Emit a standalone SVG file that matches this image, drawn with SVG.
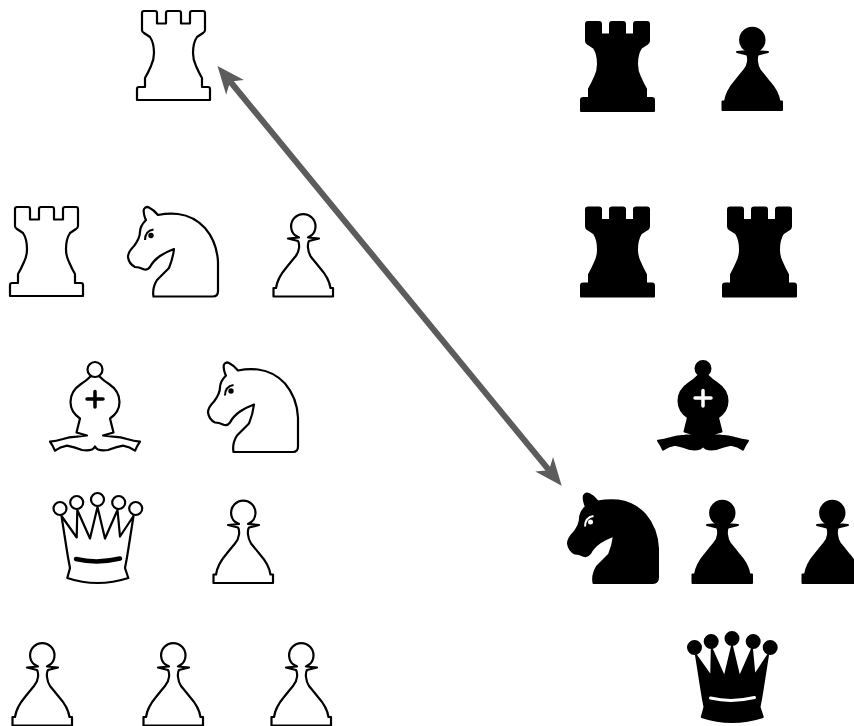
<svg xmlns="http://www.w3.org/2000/svg" width="854" height="726" viewBox="0 0 854 726">
<style>
.w{fill:#fff;stroke:#000;stroke-width:2.2;stroke-linejoin:round}
.b{fill:#000;stroke:#000;stroke-width:2;stroke-linejoin:round}
.wm{fill:none;stroke:#000}
.bm{fill:none;stroke:#fff}
.link{fill:none;stroke:#5c5c5c;stroke-width:6}
</style>
<defs>
<marker id="head" viewBox="-8 -12 28 24" refX="0" refY="0" markerWidth="28" markerHeight="24" markerUnits="userSpaceOnUse" orient="auto-start-reverse"><path d="M20 0L-7.6-11.500L0 0L-7.6 11.500Z" fill="#5c5c5c"/></marker>
<path id="rook" d="M144 11H155Q157 11 157 13V23.500H166V13Q166 11 168 11H179Q181 11 181 13V23.500H190V13Q190 11 192 11H203Q205 11 205 13V30Q205 32 203 33L197 37Q193 43 193 53Q193 60 196 66Q199 73 202 78V87H208Q210 87 210 89V100H137V89Q137 87 139 87H145V78Q148 73 151 66Q154 60 154 53Q154 43 150 37L144 33Q142 32 142 30V13Q142 11 144 11Z"/>
<path id="pawnshape" d="M295 235.300A12.200 12.200 0 1 1 311.600 235.300L308 237.500L319 238.500L309 241Q307.500 243 308 248Q308.500 253 311 257Q316 263 320 268Q329 278 330.500 288H333V296.500H273.500V288H276Q277.500 278 286 268Q290 263 295 257Q298.500 253 299 248Q299.500 243 298 241L288 238.500L299 237.500Z"/>
<path id="knight" d="M145 218Q143 212 144 209Q146 206 149 207.500Q154 210 158 215Q168 213 178 214Q194 216 205 228Q217 242 218 262V291Q218 296.500 213 296.500H153.500Q152 288 157 280Q163 274 169 268Q173 258 174 249Q166 252 160 256Q153 261 150 267Q147 271 143 269Q139 267 135 267Q129 264 128 257Q128 252 134 246Q140 238 140 232Q140 226 146 220Z"/>
<path id="bishop" d="M91 376Q86 381 81 384Q70.500 391 70.500 402Q70.500 412 80 418.500L76.500 432.500L87 435.500L76.500 436.700Q69 437 63 439Q56 441 50 441.700Q53 446 55 450.700Q60 447 67 445.700Q74 447 82 450Q88 451 92 449.500Q94 448.500 95 446.500Q96 448.500 98 449.500Q102 451 108 450Q116 447 123 445.700Q130 447 135 450.700Q137 446 140 441.700Q134 441 127 439Q121 437 113.500 436.700L103 435.500L113.500 432.500L110 418.500Q119.500 412 119.500 402Q119.500 391 109 384Q104 381 99 376"/>
<circle id="ball" cx="95" cy="369.500" r="7.500"/>
<path id="queen" d="M61.500 516L66.500 548Q68 558 70 568L67.300 578Q82 583 97.500 583Q113 583 128.300 578L125 568Q127 558 128.500 548L133.500 516L120 536.500L117.500 510L105 538.500L97.500 507L90 538.500L77.300 510L76.700 537.500Z"/>
<g id="qballs"><circle cx="60" cy="508.500" r="6.500"/><circle cx="76.700" cy="502.500" r="6.500"/><circle cx="97.500" cy="499.500" r="6.500"/><circle cx="118.700" cy="502.500" r="6.500"/><circle cx="135.700" cy="508.500" r="6.500"/></g>
<g id="wr"><use href="#rook" class="w"/></g>
<g id="br"><use href="#rook" class="b"/></g>
<g id="wp"><use href="#pawnshape" class="w"/></g>
<g id="bp"><use href="#pawnshape" class="b"/></g>
<g id="wn"><use href="#knight" class="w"/><circle cx="151" cy="235.500" r="2.700"/><path class="wm" stroke-width="2" d="M145 240Q145 231 153.500 229.500"/></g>
<g id="bn"><use href="#knight" class="b"/><circle cx="150.500" cy="235.500" r="2.500" fill="#fff"/><path class="bm" stroke-width="2" d="M145 240Q145 231 153.500 229.500"/></g>
<g id="wb"><use href="#bishop" class="w"/><use href="#ball" class="w"/><path class="wm" stroke-width="3.500" stroke-linecap="round" d="M87 399H103M95 391.500V407"/></g>
<g id="bb"><use href="#bishop" class="b"/><use href="#ball" class="b"/><path class="bm" stroke-width="3.500" stroke-linecap="round" d="M87 399H103M95 391.500V407"/></g>
<g id="wq"><use href="#queen" class="w"/><use href="#qballs" class="w"/><path class="wm" stroke-width="4.500" stroke-linecap="round" d="M76 559Q97 564 120 558.500"/></g>
<g id="bq"><use href="#queen" class="b"/><use href="#qballs" class="b"/><path class="bm" stroke-width="3" stroke-linecap="round" d="M76 559Q97 564 120 558.500"/></g>
</defs>
<g id="white-rook-1"><use href="#wr"/></g>
<g id="white-rook-2" transform="translate(-127 196)"><use href="#wr"/></g>
<g id="white-knight-1"><use href="#wn"/></g>
<g id="white-pawn-1"><use href="#wp"/></g>
<g id="white-bishop"><use href="#wb"/></g>
<g id="white-knight-2" transform="translate(80 155.500)"><use href="#wn"/></g>
<g id="white-queen"><use href="#wq"/></g>
<g id="white-pawn-2" transform="translate(-60 286.500)"><use href="#wp"/></g>
<g id="white-pawn-3" transform="translate(-261 429)"><use href="#wp"/></g>
<g id="white-pawn-4" transform="translate(-130 429)"><use href="#wp"/></g>
<g id="white-pawn-5" transform="translate(-2 429)"><use href="#wp"/></g>
<g id="black-rook-1" transform="translate(444 11)"><use href="#br"/></g>
<g id="black-pawn-1" transform="translate(449 -186.500)"><use href="#bp"/></g>
<g id="black-rook-2" transform="translate(444 196.500)"><use href="#br"/></g>
<g id="black-rook-3" transform="translate(586 196.500)"><use href="#br"/></g>
<g id="black-bishop" transform="translate(608 -1)"><use href="#bb"/></g>
<g id="black-knight" transform="translate(440 286.500)"><use href="#bn"/></g>
<g id="black-pawn-2" transform="translate(419 286.500)"><use href="#bp"/></g>
<g id="black-pawn-3" transform="translate(529 286.500)"><use href="#bp"/></g>
<g id="black-queen" transform="translate(634.500 139)"><use href="#bq"/></g>
<g id="connectors"><path class="link" d="M230.200 81.500L549 470.200" marker-start="url(#head)" marker-end="url(#head)"/></g>
</svg>
